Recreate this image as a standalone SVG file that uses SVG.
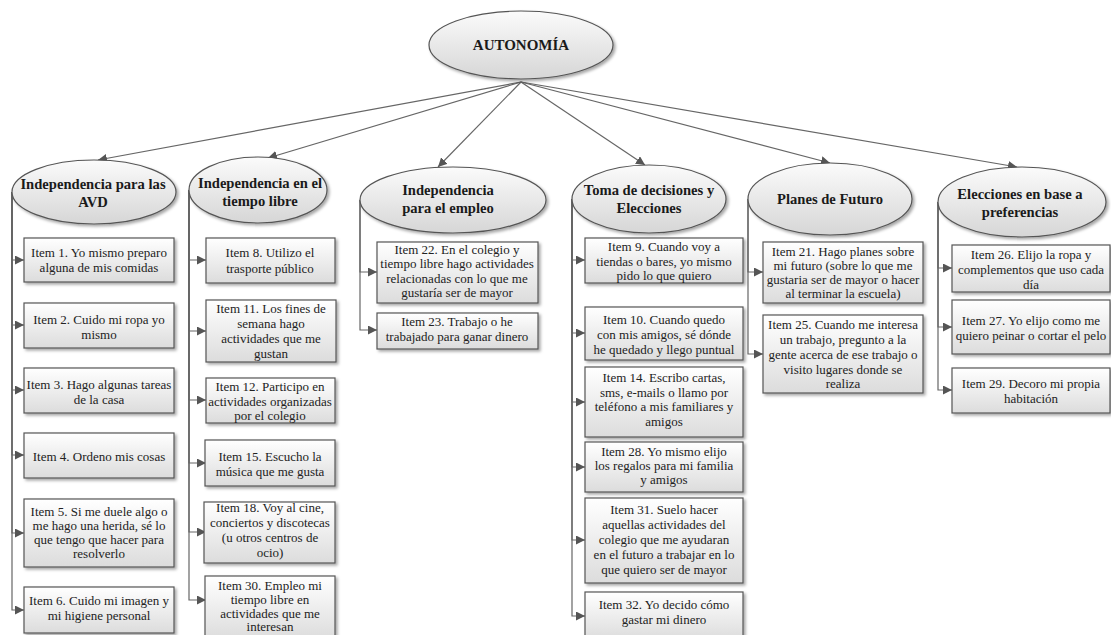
<svg xmlns="http://www.w3.org/2000/svg" width="1111" height="635" viewBox="0 0 1111 635">
  <defs>
    <linearGradient id="boxFill" x1="0" y1="0" x2="0" y2="1">
      <stop offset="0" stop-color="#ffffff"/>
      <stop offset="1" stop-color="#dcdcdc"/>
    </linearGradient>
    <linearGradient id="ovalFill" x1="0" y1="0" x2="0" y2="1">
      <stop offset="0" stop-color="#fbfbfb"/>
      <stop offset="1" stop-color="#d6d6d6"/>
    </linearGradient>
    <filter id="shadow" x="-10%" y="-10%" width="125%" height="130%">
      <feDropShadow dx="2" dy="2" stdDeviation="1.4" flood-color="#000" flood-opacity="0.35"/>
    </filter>
    <marker id="arrow" viewBox="0 0 10 10" refX="10" refY="5" markerWidth="9" markerHeight="9" markerUnits="userSpaceOnUse" orient="auto">
      <path d="M0,0 L10,5 L0,10 Z" fill="#555"/>
    </marker>
  </defs>
  <style>
    .oval { fill: url(#ovalFill); stroke: #555; stroke-width: 1.2; filter: url(#shadow); }
    .box { fill: url(#boxFill); stroke: #555; stroke-width: 1.2; filter: url(#shadow); }
    text { font-family: 'Liberation Serif', 'DejaVu Serif', 'Times New Roman', serif; text-anchor: middle; }
    .head { font-weight: bold; font-size: 14.6px; fill: #1a1a1a; }
    .root { font-weight: bold; font-size: 15px; fill: #1a1a1a; }
    .item { font-size: 13px; fill: #222; }
    .link { fill: none; stroke: #666; stroke-width: 1.2; marker-end: url(#arrow); }
  </style>

  <rect width="1111" height="635" fill="#ffffff"/>

  <!-- connectors -->
  <g id="connectors">
    <!-- root to categories -->
    <path class="link" d="M521,82 L98,160"/>
    <path class="link" d="M521,82 L268,158"/>
    <path class="link" d="M521,82 L438,167"/>
    <path class="link" d="M521,82 L645,165"/>
    <path class="link" d="M521,82 L830,163"/>
    <path class="link" d="M521,82 L1017,167"/>
    <!-- Independencia para las AVD -->
    <path class="link" d="M12,192 V260 H24"/>
    <path class="link" d="M12,192 V325 H24"/>
    <path class="link" d="M12,192 V390 H24"/>
    <path class="link" d="M12,192 V455 H24"/>
    <path class="link" d="M12,192 V533 H24"/>
    <path class="link" d="M12,192 V610 H24"/>
    <!-- Independencia en el tiempo libre -->
    <path class="link" d="M189,190 V260 H206"/>
    <path class="link" d="M189,190 V331 H206"/>
    <path class="link" d="M189,190 V400 H206"/>
    <path class="link" d="M189,190 V463 H206"/>
    <path class="link" d="M189,190 V532 H206"/>
    <path class="link" d="M189,190 V600 H206"/>
    <!-- Independencia para el empleo -->
    <path class="link" d="M360,200 V272 H377"/>
    <path class="link" d="M360,200 V330 H377"/>
    <!-- Toma de decisiones y Elecciones -->
    <path class="link" d="M572,199 V260 H585"/>
    <path class="link" d="M572,199 V333 H585"/>
    <path class="link" d="M572,199 V402 H585"/>
    <path class="link" d="M572,199 V467 H585"/>
    <path class="link" d="M572,199 V540 H585"/>
    <path class="link" d="M572,199 V616 H585"/>
    <!-- Planes de Futuro -->
    <path class="link" d="M748,199 V272 H763"/>
    <path class="link" d="M748,199 V354 H763"/>
    <!-- Elecciones en base a preferencias -->
    <path class="link" d="M938,202 V268 H952"/>
    <path class="link" d="M938,202 V327 H952"/>
    <path class="link" d="M938,202 V390 H952"/>
  </g>

  <!-- root -->
  <g id="autonomia">
    <ellipse class="oval" cx="521" cy="45" rx="92" ry="34"/>
    <text class="root" x="521" y="50">AUTONOMÍA</text>
  </g>

  <!-- categories -->
  <g id="cat-avd">
    <ellipse class="oval" cx="94" cy="192" rx="82" ry="32"/>
    <text class="head" x="93" y="189">Independencia para las</text>
    <text class="head" x="93" y="207">AVD</text>
  </g>
  <g id="cat-tiempo-libre">
    <ellipse class="oval" cx="258" cy="190" rx="69" ry="33"/>
    <text class="head" x="260" y="188">Independencia en el</text>
    <text class="head" x="260" y="206">tiempo libre</text>
  </g>
  <g id="cat-empleo">
    <ellipse class="oval" cx="453" cy="200" rx="93" ry="33"/>
    <text class="head" x="448" y="195">Independencia</text>
    <text class="head" x="448" y="213">para el empleo</text>
  </g>
  <g id="cat-decisiones">
    <ellipse class="oval" cx="649" cy="199" rx="77" ry="34"/>
    <text class="head" x="649" y="195">Toma de decisiones y</text>
    <text class="head" x="649" y="213">Elecciones</text>
  </g>
  <g id="cat-futuro">
    <ellipse class="oval" cx="830" cy="199" rx="82" ry="36"/>
    <text class="head" x="830" y="204">Planes de Futuro</text>
  </g>
  <g id="cat-preferencias">
    <ellipse class="oval" cx="1022" cy="202" rx="84" ry="35"/>
    <text class="head" x="1020" y="199">Elecciones en base a</text>
    <text class="head" x="1020" y="217">preferencias</text>
  </g>

  <!-- Independencia para las AVD items -->
  <g id="item-1">
    <rect class="box" x="24" y="238" width="150" height="44"/>
    <text class="item" x="99" y="257">Item 1. Yo mismo preparo</text>
    <text class="item" x="99" y="272">alguna de mis comidas</text>
  </g>
  <g id="item-2">
    <rect class="box" x="24" y="303" width="150" height="45"/>
    <text class="item" x="99" y="324">Item 2. Cuido mi ropa yo</text>
    <text class="item" x="99" y="339">mismo</text>
  </g>
  <g id="item-3">
    <rect class="box" x="24" y="368" width="150" height="45"/>
    <text class="item" x="99" y="389">Item 3. Hago algunas tareas</text>
    <text class="item" x="99" y="404">de la casa</text>
  </g>
  <g id="item-4">
    <rect class="box" x="24" y="433" width="150" height="45"/>
    <text class="item" x="99" y="461">Item 4. Ordeno mis cosas</text>
  </g>
  <g id="item-5">
    <rect class="box" x="24" y="499" width="150" height="68"/>
    <text class="item" x="99" y="516">Item 5. Si me duele algo o</text>
    <text class="item" x="99" y="530">me hago una herida, sé lo</text>
    <text class="item" x="99" y="544">que tengo que hacer para</text>
    <text class="item" x="99" y="558">resolverlo</text>
  </g>
  <g id="item-6">
    <rect class="box" x="24" y="587" width="150" height="46"/>
    <text class="item" x="99" y="605">Item 6. Cuido mi imagen y</text>
    <text class="item" x="99" y="620">mi higiene personal</text>
  </g>

  <!-- Independencia en el tiempo libre items -->
  <g id="item-8">
    <rect class="box" x="206" y="238" width="129" height="45"/>
    <text class="item" x="270" y="257">Item 8. Utilizo el</text>
    <text class="item" x="270" y="273">trasporte público</text>
  </g>
  <g id="item-11">
    <rect class="box" x="206" y="300" width="130" height="62"/>
    <text class="item" x="271" y="313">Item 11. Los fines de</text>
    <text class="item" x="271" y="328">semana hago</text>
    <text class="item" x="271" y="343">actividades que me</text>
    <text class="item" x="271" y="358">gustan</text>
  </g>
  <g id="item-12">
    <rect class="box" x="206" y="378" width="129" height="45"/>
    <text class="item" x="270" y="391">Item 12. Participo en</text>
    <text class="item" x="270" y="406">actividades organizadas</text>
    <text class="item" x="270" y="420">por el colegio</text>
  </g>
  <g id="item-15">
    <rect class="box" x="205" y="440" width="130" height="46"/>
    <text class="item" x="270" y="461">Item 15. Escucho la</text>
    <text class="item" x="270" y="476">música que me gusta</text>
  </g>
  <g id="item-18">
    <rect class="box" x="204" y="502" width="131" height="61"/>
    <text class="item" x="270" y="512">Item 18. Voy al cine,</text>
    <text class="item" x="270" y="527">conciertos y discotecas</text>
    <text class="item" x="270" y="542">(u otros centros de</text>
    <text class="item" x="270" y="557">ocio)</text>
  </g>
  <g id="item-30">
    <rect class="box" x="205" y="576" width="130" height="64"/>
    <text class="item" x="270" y="590">Item 30. Empleo mi</text>
    <text class="item" x="270" y="604">tiempo libre en</text>
    <text class="item" x="270" y="618">actividades que me</text>
    <text class="item" x="270" y="631">interesan</text>
  </g>

  <!-- Independencia para el empleo items -->
  <g id="item-22">
    <rect class="box" x="377" y="242" width="161" height="61"/>
    <text class="item" x="457" y="254">Item 22. En el colegio y</text>
    <text class="item" x="457" y="268">tiempo libre hago actividades</text>
    <text class="item" x="457" y="283">relacionadas con lo que me</text>
    <text class="item" x="457" y="297">gustaría ser de mayor</text>
  </g>
  <g id="item-23">
    <rect class="box" x="377" y="313" width="161" height="36"/>
    <text class="item" x="457" y="326">Item 23. Trabajo o he</text>
    <text class="item" x="457" y="341">trabajado para ganar dinero</text>
  </g>

  <!-- Toma de decisiones y Elecciones items -->
  <g id="item-9">
    <rect class="box" x="585" y="238" width="158" height="45"/>
    <text class="item" x="664" y="251">Item 9. Cuando voy a</text>
    <text class="item" x="664" y="266">tiendas o bares, yo mismo</text>
    <text class="item" x="664" y="280">pido lo que quiero</text>
  </g>
  <g id="item-10">
    <rect class="box" x="585" y="307" width="158" height="53"/>
    <text class="item" x="664" y="324">Item 10. Cuando quedo</text>
    <text class="item" x="664" y="339">con mis amigos, sé dónde</text>
    <text class="item" x="664" y="354">he quedado y llego puntual</text>
  </g>
  <g id="item-14">
    <rect class="box" x="585" y="367" width="158" height="70"/>
    <text class="item" x="664" y="382">Item 14. Escribo cartas,</text>
    <text class="item" x="664" y="397">sms, e-mails o llamo por</text>
    <text class="item" x="664" y="411">teléfono a mis familiares y</text>
    <text class="item" x="664" y="426">amigos</text>
  </g>
  <g id="item-28">
    <rect class="box" x="585" y="442" width="158" height="50"/>
    <text class="item" x="664" y="456">Item 28. Yo mismo elijo</text>
    <text class="item" x="664" y="470">los regalos para mi familia</text>
    <text class="item" x="664" y="484">y amigos</text>
  </g>
  <g id="item-31">
    <rect class="box" x="585" y="498" width="158" height="85"/>
    <text class="item" x="664" y="514">Item 31. Suelo hacer</text>
    <text class="item" x="664" y="529">aquellas actividades del</text>
    <text class="item" x="664" y="544">colegio que me ayudaran</text>
    <text class="item" x="664" y="559">en el futuro a trabajar en lo</text>
    <text class="item" x="664" y="574">que quiero ser de mayor</text>
  </g>
  <g id="item-32">
    <rect class="box" x="585" y="592" width="158" height="48"/>
    <text class="item" x="664" y="609">Item 32. Yo decido cómo</text>
    <text class="item" x="664" y="624">gastar mi dinero</text>
  </g>

  <!-- Planes de Futuro items -->
  <g id="item-21">
    <rect class="box" x="763" y="242" width="160" height="61"/>
    <text class="item" x="843" y="256">Item 21. Hago planes sobre</text>
    <text class="item" x="843" y="270">mi futuro (sobre lo que me</text>
    <text class="item" x="843" y="284">gustaria ser de mayor o hacer</text>
    <text class="item" x="843" y="298">al terminar la escuela)</text>
  </g>
  <g id="item-25">
    <rect class="box" x="763" y="315" width="160" height="78"/>
    <text class="item" x="843" y="329">Item 25. Cuando me interesa</text>
    <text class="item" x="843" y="344">un trabajo, pregunto a la</text>
    <text class="item" x="843" y="359">gente acerca de ese trabajo o</text>
    <text class="item" x="843" y="374">visito lugares donde se</text>
    <text class="item" x="843" y="388">realiza</text>
  </g>

  <!-- Elecciones en base a preferencias items -->
  <g id="item-26">
    <rect class="box" x="952" y="245" width="158" height="47"/>
    <text class="item" x="1031" y="259">Item 26. Elijo la ropa y</text>
    <text class="item" x="1031" y="274">complementos que uso cada</text>
    <text class="item" x="1031" y="289">día</text>
  </g>
  <g id="item-27">
    <rect class="box" x="952" y="300" width="158" height="54"/>
    <text class="item" x="1031" y="325">Item 27. Yo elijo como me</text>
    <text class="item" x="1031" y="340">quiero peinar o cortar el pelo</text>
  </g>
  <g id="item-29">
    <rect class="box" x="952" y="368" width="158" height="45"/>
    <text class="item" x="1031" y="388">Item 29. Decoro mi propia</text>
    <text class="item" x="1031" y="403">habitación</text>
  </g>
</svg>
